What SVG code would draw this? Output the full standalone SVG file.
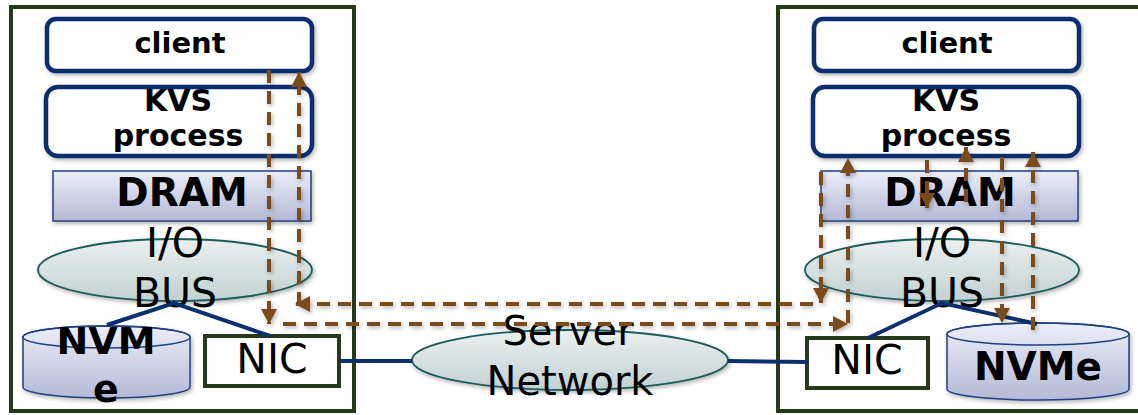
<svg xmlns="http://www.w3.org/2000/svg" width="1138" height="415" viewBox="0 0 1138 415">
<defs>
<linearGradient id="gBlue" x1="0" y1="0" x2="0" y2="1"><stop offset="0" stop-color="#eceef8"/><stop offset="1" stop-color="#b4b9d6"/></linearGradient>
<linearGradient id="gTeal" x1="0" y1="0" x2="0" y2="1"><stop offset="0" stop-color="#eaf0ef"/><stop offset="1" stop-color="#c3d1d2"/></linearGradient>
<filter id="sh" x="-10%" y="-10%" width="130%" height="140%"><feDropShadow dx="1.5" dy="2" stdDeviation="2" flood-color="#000" flood-opacity="0.3"/></filter>
<marker id="ah" viewBox="0 0 15 16" refX="15" refY="8" markerWidth="15" markerHeight="16" markerUnits="userSpaceOnUse" orient="auto"><path d="M0,0 L15,8 L0,16 Z" fill="#7a4b1d"/></marker>
<style>
.srv{fill:#fff;stroke:#26391c;stroke-width:4}
.proc{fill:#fff;stroke:#0c2f6e;stroke-width:4.5}
.mem{fill:url(#gBlue);stroke:#1f3f80;stroke-width:1.5}
.bus{fill:url(#gTeal);stroke:#1e5b5b;stroke-width:1.8}
.nic{fill:#fff;stroke:#26391c;stroke-width:4}
.link{fill:none;stroke:#0c2f6e;stroke-width:4}
.flow{fill:none;stroke:#7a4b1d;stroke-width:4;stroke-dasharray:13 8;marker-end:url(#ah)}
.tb{font-family:"DejaVu Sans",Verdana,sans-serif;font-weight:bold;fill:#000;text-anchor:middle}
.tn{font-family:"DejaVu Sans",Verdana,sans-serif;fill:#000;text-anchor:middle}
</style>
</defs>

<g id="server-left">
<rect class="srv" x="11" y="7" width="343" height="404"/>
</g>
<g id="server-right">
<rect class="srv" x="778" y="7" width="370" height="404"/>
</g>

<g id="client-left">
<rect class="proc" x="47" y="19" width="265" height="52" rx="9" filter="url(#sh)"/>
<text class="tb" x="180" y="53" font-size="29">client</text>
</g>
<g id="kvs-left">
<rect class="proc" x="46" y="87" width="266" height="69" rx="12" filter="url(#sh)"/>
<text class="tb" x="178" y="111" font-size="30">KVS</text>
<text class="tb" x="178" y="146" font-size="30">process</text>
</g>
<g id="dram-left">
<rect class="mem" x="53" y="171" width="258" height="50" filter="url(#sh)"/>
<text class="tb" x="182" y="206" font-size="39">DRAM</text>
</g>
<g id="iobus-left">
<ellipse class="bus" cx="175" cy="270" rx="137" ry="31" filter="url(#sh)"/>
<text class="tn" x="175" y="257" font-size="41">I/O</text>
<text class="tn" x="175" y="307" font-size="41">BUS</text>
</g>
<g id="nvme-left">
<path class="mem" d="M23,337 A83.5,11 0 0 1 190,337 V387 A83.5,11 0 0 1 23,387 Z" filter="url(#sh)"/>
<ellipse cx="106.5" cy="337" rx="83.5" ry="11" fill="none" stroke="#1f3f80" stroke-width="1.5"/>
<text class="tb" x="106" y="354" font-size="38">NVM</text>
<text class="tb" x="106" y="402" font-size="38">e</text>
</g>
<g id="nic-left">
<rect class="nic" x="205" y="336" width="134" height="50"/>
<text class="tn" x="272" y="373" font-size="41">NIC</text>
</g>

<g id="client-right">
<rect class="proc" x="814" y="19" width="265" height="52" rx="9" filter="url(#sh)"/>
<text class="tb" x="947" y="53" font-size="29">client</text>
</g>
<g id="kvs-right">
<rect class="proc" x="813" y="87" width="266" height="69" rx="12" filter="url(#sh)"/>
<text class="tb" x="946" y="111" font-size="30">KVS</text>
<text class="tb" x="946" y="146" font-size="30">process</text>
</g>
<g id="dram-right">
<rect class="mem" x="821" y="171" width="257" height="50" filter="url(#sh)"/>
<text class="tb" x="950" y="206" font-size="39">DRAM</text>
</g>
<g id="iobus-right">
<ellipse class="bus" cx="942" cy="270" rx="137" ry="31" filter="url(#sh)"/>
<text class="tn" x="942" y="257" font-size="41">I/O</text>
<text class="tn" x="942" y="307" font-size="41">BUS</text>
</g>
<g id="nvme-right">
<path class="mem" d="M947,334 A91,11 0 0 1 1129,334 V389 A91,11 0 0 1 947,389 Z" filter="url(#sh)"/>
<ellipse cx="1038" cy="334" rx="91" ry="11" fill="none" stroke="#1f3f80" stroke-width="1.5"/>
<text class="tb" x="1038" y="380" font-size="39">NVMe</text>
</g>
<g id="nic-right">
<rect class="nic" x="807" y="338" width="121" height="50"/>
<text class="tn" x="867" y="374" font-size="41">NIC</text>
</g>

<g id="server-network">
<ellipse class="bus" cx="570" cy="360" rx="158" ry="30" filter="url(#sh)"/>
<text class="tn" x="568" y="345" font-size="40">Server</text>
<text class="tn" x="570" y="395" font-size="40">Network</text>
</g>

<g id="connectors">
<path class="link" d="M107,325 L174,303 L270,336"/>
<path class="link" d="M868,338 L942,303 L1037,324"/>
<path class="link" d="M339,361 L412,361"/>
<path class="link" d="M728,361 L807,362"/>
<g filter="url(#sh)">
<path class="flow" d="M269,70 V324"/>
<path class="flow" d="M299,305 V72"/>
<path class="flow" d="M813,304 H295"/>
<path class="flow" d="M283,324 H848"/>
<path class="flow" d="M821,172 V303"/>
<path class="flow" d="M848,323 V158"/>
<path class="flow" d="M927,160 V208"/>
<path class="flow" d="M966,202 V147"/>
<path class="flow" d="M1002,157 V323"/>
<path class="flow" d="M1033,330 V152"/>
</g>
</g>
</svg>
